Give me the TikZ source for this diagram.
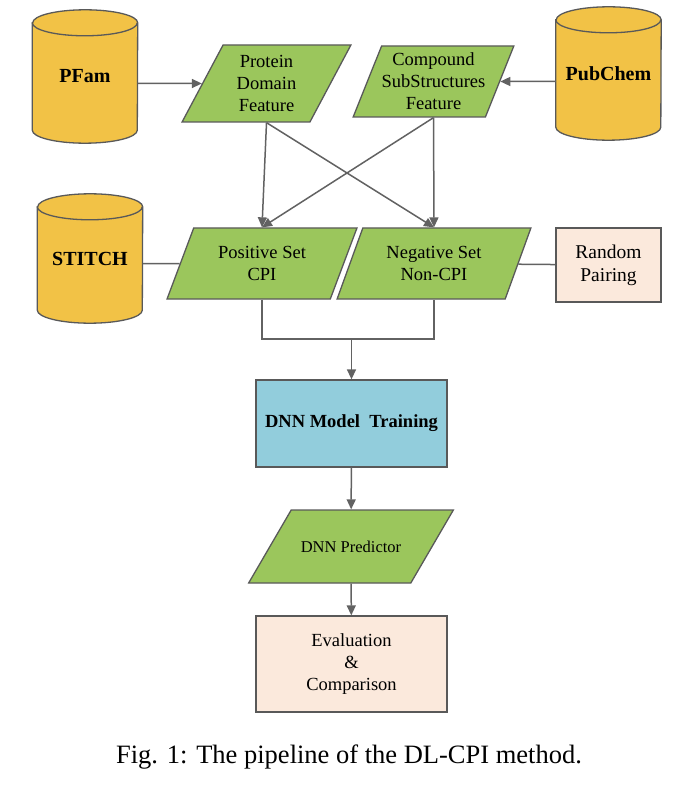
\documentclass[tikz,border=0pt]{standalone}
\usepackage{fontspec}
\setmainfont{Liberation Serif}
\usetikzlibrary{shapes.geometric,arrows.meta,backgrounds}
\definecolor{dbfill}{HTML}{F2C246}
\definecolor{setgreen}{HTML}{9BC65C}
\definecolor{trainblue}{HTML}{92CDDC}
\definecolor{peach}{HTML}{FBE9DC}
\definecolor{edgegray}{HTML}{595959}
\definecolor{arrowgray}{HTML}{626262}
\tikzset{
  db/.style={minimum width=105pt, minimum height=133pt, inner sep=0pt,
    font=\bfseries\fontsize{20}{24}\selectfont},
  para/.style={trapezium, trapezium left angle=63.5, trapezium right angle=116.5,
    trapezium stretches, draw=edgegray, line width=1.3pt, fill=setgreen,
    align=center, inner sep=0pt, font=\fontsize{18.5}{22}\selectfont},
  box/.style={rectangle, draw=edgegray, line width=1.3pt, align=center,
    inner sep=0pt, font=\fontsize{18.5}{22}\selectfont},
  link/.style={draw=arrowgray, line width=1.5pt},
}
\newcommand\dbdraw[1]{%
  \draw[draw=edgegray, line width=1.3pt, fill=dbfill]
    ([yshift=-13pt]#1.north west) -- ([yshift=13pt]#1.south west)
    arc[start angle=180, end angle=360, x radius=52.5pt, y radius=13pt]
    -- ([yshift=-13pt]#1.north east)
    arc[start angle=0, end angle=180, x radius=52.5pt, y radius=13pt] -- cycle;
  \draw[draw=edgegray, line width=1.3pt] ([yshift=-13pt]#1.north west)
    arc[start angle=180, end angle=360, x radius=52.5pt, y radius=13pt];}
\begin{document}
\begin{tikzpicture}[x=1pt, y=-1pt, >={Triangle[length=10pt,width=9pt]}]
\useasboundingbox (0,0) rectangle (688,794);
% databases
\node[db] (pfam) at (85,76.5) {PFam};
\node[db] (pubchem) at (608.5,73.5) {PubChem};
\node[db, minimum height=129pt] (stitch) at (90,258.5) {STITCH};
% features
\node[para, minimum width=169pt, minimum height=77pt] (protein) at (266.5,83.5) {Protein\\Domain\\Feature};
\node[para, minimum width=155pt, minimum height=71pt] (compound) at (433.5,81.5) {Compound\\SubStructures\\Feature};
% sets
\node[para, minimum width=190pt, minimum height=71pt] (positive) at (262,263.5) {Positive Set\\CPI};
\node[para, minimum width=194pt, minimum height=71pt] (negative) at (434,263.5) {Negative Set\\Non-CPI};
\node[box, fill=peach, minimum width=105pt, minimum height=74pt,
  font=\fontsize{19.5}{23}\selectfont] (random) at (608.5,265) {Random\\Pairing};
% model
\node[box, fill=trainblue, minimum width=191pt, minimum height=87pt,
  font=\bfseries\fontsize{18.5}{22}\selectfont] (dnn) at (351.5,423.5) {DNN Model\ \ Training};
\node[para, minimum width=205pt, minimum height=73pt, inner ysep=30pt,
  font=\fontsize{16.5}{20}\selectfont] (predictor) at (351,546.5) {DNN Predictor};
\node[box, fill=peach, minimum width=191pt, minimum height=96pt] (evaluation) at (351.5,664) {Evaluation\\\&\\Comparison};
\coordinate (join) at (351.5,339);
% caption
\node[font=\fontsize{26.5}{30}\selectfont] (caption) at (349,757) {Fig. 1: The pipeline of the DL-CPI method.};
\begin{scope}[on background layer]
  \dbdraw{pfam} \dbdraw{pubchem} \dbdraw{stitch}
\end{scope}
% connectors
\draw[link,->] (pfam.east |- protein) -- (protein);
\draw[link,->] (pubchem.west |- compound) -- (compound);
\draw[link,->] (protein |- protein.south) -- (positive |- positive.north);
\draw[link,->] (protein |- protein.south) -- (negative |- negative.north);
\draw[link,->] (compound |- compound.south) -- (negative |- negative.north);
\draw[link,->] (compound |- compound.south) -- (positive |- positive.north);
\draw[link] (stitch.east |- positive) -- (positive);
\draw[link] (random) -- (negative);
\draw[link] (positive |- positive.south) |- (join) -| (negative |- negative.south);
\draw[link,->] (join) -- (dnn);
\draw[link,->] (dnn) -- (predictor);
\draw[link,->] (predictor) -- (evaluation);
\end{tikzpicture}
\end{document}
